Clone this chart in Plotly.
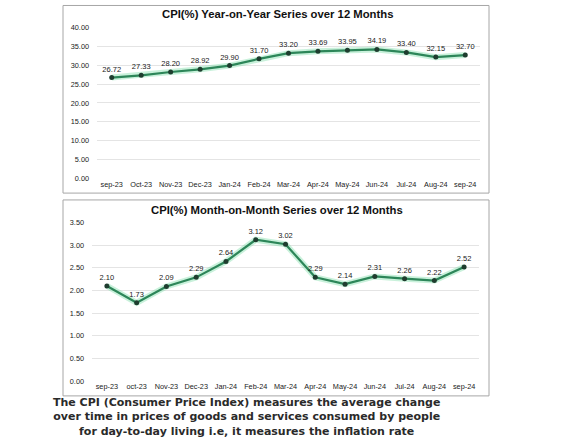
import plotly.graph_objects as go

# data
months_yoy = ["sep-23", "Oct-23", "Nov-23", "Dec-23", "Jan-24", "Feb-24", "Mar-24",
              "Apr-24", "May-24", "Jun-24", "Jul-24", "Aug-24", "sep-24"]
cpi_yoy = [26.72, 27.33, 28.20, 28.92, 29.90, 31.70, 33.20, 33.69, 33.95, 34.19, 33.40, 32.15, 32.70]

months_mom = ["sep-23", "oct-23", "Nov-23", "Dec-23", "Jan-24", "Feb-24", "Mar-24",
              "Apr-24", "May-24", "Jun-24", "Jul-24", "Aug-24", "sep-24"]
cpi_mom = [2.10, 1.73, 2.09, 2.29, 2.64, 3.12, 3.02, 2.29, 2.14, 2.31, 2.26, 2.22, 2.52]

yoy_ticks = [0, 5, 10, 15, 20, 25, 30, 35, 40]
mom_ticks = [0, 0.5, 1.0, 1.5, 2.0, 2.5, 3.0, 3.5]

caption = ["The CPI (Consumer Price Index) measures the average change",
           "over time in prices of goods and services consumed by people",
           "for day-to-day living i.e, it measures the inflation rate"]

W, H = 573, 444
glow = "rgba(120,220,165,0.4)"
line_col = "#2d8659"
dot_col = "#1f3d2f"
lbl_font = dict(family="Liberation Sans, Arial", size=7.5, color="#222")

fig = go.Figure()


def add_series(x, y, xa, ya):
    # soft light-green halo under the line, then the line itself
    fig.add_trace(go.Scatter(x=x, y=y, xaxis=xa, yaxis=ya, mode="lines",
                             line=dict(color=glow, width=6), hoverinfo="skip", showlegend=False))
    fig.add_trace(go.Scatter(x=x, y=y, xaxis=xa, yaxis=ya, mode="lines+markers+text",
                             line=dict(color=line_col, width=2.2),
                             marker=dict(color=dot_col, size=5),
                             text=[f"{v:.2f}" for v in y], textposition="top center",
                             textfont=lbl_font, showlegend=False))


add_series(months_yoy, cpi_yoy, "x", "y")
add_series(months_mom, cpi_mom, "x2", "y2")

tick_font = dict(family="Liberation Sans, Arial", size=7.3, color="#222")
ax_common = dict(showline=False, zeroline=False, ticks="", tickfont=tick_font, fixedrange=True)

fig.update_layout(
    width=W, height=H,
    margin=dict(l=0, r=0, t=0, b=0),
    paper_bgcolor="white", plot_bgcolor="white",
    xaxis=dict(domain=[97 / W, 480 / W], anchor="y", showgrid=False,
               range=[-0.5, 12.5], **ax_common),
    yaxis=dict(domain=[1 - 178 / H, 1 - 24 / H], anchor="x", range=[0, 40],
               tickvals=yoy_ticks, tickformat=".2f", gridcolor="#e4e4e4",
               ticklabelstandoff=7, **ax_common),
    xaxis2=dict(domain=[92 / W, 479 / W], anchor="y2", showgrid=False,
                range=[-0.5, 12.5], **ax_common),
    yaxis2=dict(domain=[1 - 385 / H, 1 - 223 / H], anchor="x2", range=[0, 3.5],
                tickvals=mom_ticks, tickformat=".2f", gridcolor="#e4e4e4",
                ticklabelstandoff=7, **ax_common),
)

# boxes round each chart
for y0, y1 in [(193, 1.5), (400, 200)]:
    fig.add_shape(type="rect", xref="paper", yref="paper",
                  x0=63 / W, x1=489 / W, y0=1 - y0 / H, y1=1 - y1 / H,
                  line=dict(color="#a6a6a6", width=1))

title_font = dict(family="Liberation Sans, Arial", size=11.3, color="#111")
for txt, yy in [("CPI(%) Year-on-Year Series over 12 Months", 10),
                ("CPI(%) Month-on-Month Series over 12 Months", 210)]:
    fig.add_annotation(text=f"<b>{txt}</b>", xref="paper", yref="paper",
                       x=277 / W, y=1 - yy / H, xanchor="center", yanchor="middle",
                       showarrow=False, font=title_font)

# caption under the charts, one text block so the lines never collide
cap_font = dict(family="DejaVu Sans", size=11, color="#2a2a2a")
fig.add_annotation(text="<br>".join(f"<b>{line}</b>" for line in caption),
                   xref="paper", yref="paper", x=246 / W, y=1 - 421.5 / H,
                   xanchor="center", yanchor="middle", align="center",
                   showarrow=False, font=cap_font)

# drop the browser's default body margin so the figure sits at the window's corner
fig.write_html("out.html", config={"displayModeBar": False},
               post_script="document.body.style.margin='0';")
